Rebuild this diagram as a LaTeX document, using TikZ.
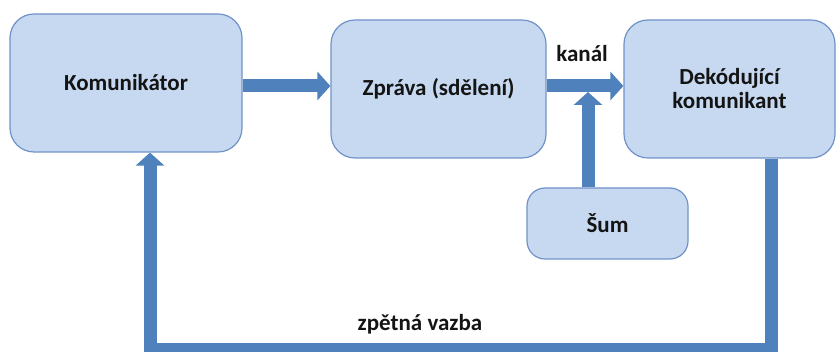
\documentclass[tikz,border=0pt]{standalone}
\usepackage{fontspec}
\setmainfont{Carlito}
\usepackage{tikz}
\usetikzlibrary{arrows.meta, positioning}
\definecolor{commfill}{RGB}{198,217,241}
\definecolor{commedge}{RGB}{112,146,200}
\definecolor{commflow}{RGB}{79,129,189}
\definecolor{commtext}{RGB}{20,20,20}

\begin{document}
\begin{tikzpicture}[
  x=1pt, y=-1pt,
  block/.style={draw=commedge, fill=commfill, rounded corners=24pt,
                line width=1.2pt, align=center, text=commtext,
                font=\bfseries\fontsize{23}{24}\selectfont},
  flow/.style={-{Triangle[length=13pt, width=28pt]}, line width=13pt, commflow},
  lbl/.style={text=commtext, font=\bfseries\fontsize{23}{24}\selectfont},
]
  \useasboundingbox (0,0) rectangle (836,352);
  \clip (0,0) rectangle (836,352);

  % Nodes
  \node[block, minimum width=232pt, minimum height=138pt] (kom) at (126,83) {Komunik\'ator};
  \node[block, minimum width=215pt, minimum height=138pt] (zpr) at (438.5,89) {Zpr\'ava (sd\v{e}len\'i)};
  \node[block, minimum width=211pt, minimum height=138pt] (dek) at (729.5,89) {Dek\'oduj\'ic\'i\\komunikant};
  \node[block, rounded corners=18pt, minimum width=161pt, minimum height=71pt] (sum) at (607.5,223.5) {\v{S}um};

  % Edges
  \draw[flow] (kom.east |- 0,86) -- (zpr.west |- 0,86);
  \draw[flow] (zpr.east |- 0,86) -- (dek.west |- 0,86);
  \coordinate (chan) at (588,92);
  \draw[flow] (sum.north -| chan) -- (chan);
  \draw[flow] (dek.south -| 771,0) -- (771,350) -- (150,350) -- (kom.south -| 150,0);

  % Labels
  \node[lbl] (kanal) at (582,54) {kan\'al};
  \node[lbl] (zpet) at (420,324) {zp\v{e}tn\'a vazba};
\end{tikzpicture}
\end{document}
